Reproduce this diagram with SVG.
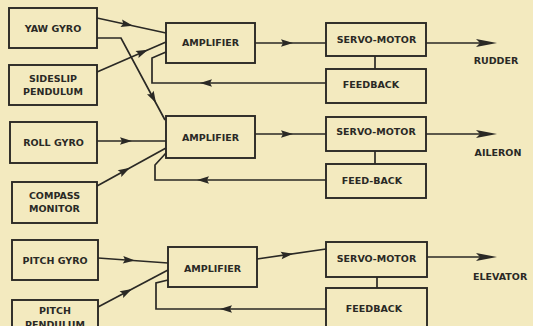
<svg xmlns="http://www.w3.org/2000/svg" xmlns:xlink="http://www.w3.org/1999/xlink" width="533" height="326" viewBox="0 0 533 326">
<style>
.bg{fill:#f3eabf}
.box{fill:none;stroke:#2a2925;stroke-width:1.9}
.ln{fill:none;stroke:#2a2925;stroke-width:1.7;stroke-linejoin:miter}
.t{font-family:"DejaVu Sans",sans-serif;font-weight:bold;font-size:9.5px;fill:#2a2925;text-anchor:middle}
.lbl{font-family:"DejaVu Sans",sans-serif;font-weight:bold;font-size:9.5px;fill:#2a2925}
.ah{fill:#2a2925}
</style>
<defs>
<path id="a" d="M0,0 L-12,-3.8 L-10,0 L-12,3.8 Z"/>
<path id="b" d="M0,0 L-21,-4 L-17,0 L-21,4 Z"/>
</defs>
<rect class="bg" x="0" y="0" width="533" height="326"/>

<g id="yaw-gyro"><rect class="box" x="9" y="8" width="88" height="40"/><text class="t" x="53" y="31.5">YAW GYRO</text></g>
<g id="sideslip-pendulum"><rect class="box" x="9" y="65" width="88" height="40"/><text class="t" x="53" y="81.5">SIDESLIP</text><text class="t" x="53" y="94.5">PENDULUM</text></g>
<g id="roll-gyro"><rect class="box" x="10" y="122" width="87" height="41"/><text class="t" x="53.5" y="145.5">ROLL GYRO</text></g>
<g id="compass-monitor"><rect class="box" x="12" y="182" width="85" height="41"/><text class="t" x="54.5" y="198.5">COMPASS</text><text class="t" x="54.5" y="211.5">MONITOR</text></g>
<g id="pitch-gyro"><rect class="box" x="12" y="240" width="86" height="40"/><text class="t" x="55" y="263.5">PITCH GYRO</text></g>
<g id="pitch-pendulum"><rect class="box" x="12" y="300" width="86" height="40"/><text class="t" x="55" y="313.5">PITCH</text><text class="t" x="55" y="328">PENDULUM</text></g>

<g id="amplifier-1"><rect class="box" x="166" y="23" width="89" height="40"/><text class="t" x="210.5" y="45.5">AMPLIFIER</text></g>
<g id="amplifier-2"><rect class="box" x="166" y="116" width="89" height="42"/><text class="t" x="210.5" y="140.5">AMPLIFIER</text></g>
<g id="amplifier-3"><rect class="box" x="168" y="247" width="89" height="40"/><text class="t" x="212.5" y="271.5">AMPLIFIER</text></g>

<g id="servo-motor-1"><rect class="box" x="326" y="23" width="100" height="33"/><text class="t" x="376.5" y="42.5">SERVO-MOTOR</text></g>
<g id="feedback-1"><rect class="box" x="326" y="69" width="100" height="34"/><text class="t" x="371" y="87.5">FEEDBACK</text></g>
<g id="servo-motor-2"><rect class="box" x="326" y="117" width="100" height="34"/><text class="t" x="376" y="135">SERVO-MOTOR</text></g>
<g id="feed-back-2"><rect class="box" x="326" y="164" width="100" height="34"/><text class="t" x="372" y="183.5">FEED-BACK</text></g>
<g id="servo-motor-3"><rect class="box" x="326" y="242" width="101" height="35"/><text class="t" x="376.5" y="261.5">SERVO-MOTOR</text></g>
<g id="feedback-3"><rect class="box" x="326" y="288" width="101" height="42"/><text class="t" x="374" y="311.5">FEEDBACK</text></g>

<g id="labels">
<text class="t" x="496" y="63.5">RUDDER</text>
<text class="t" x="498" y="155.5">AILERON</text>
<text class="lbl" x="473" y="279.5">ELEVATOR</text>
</g>

<g id="connectors">
<path class="ln" d="M97,18 L166,33"/>
<use xlink:href="#a" class="ah" transform="translate(133,25.8) rotate(12.3)"/>
<path class="ln" d="M97,72 L166,42"/>
<use xlink:href="#a" class="ah" transform="translate(148,49.8) rotate(-23.5)"/>
<path class="ln" d="M97,38 L121,38 L165,120"/>
<use xlink:href="#a" class="ah" transform="translate(156,103) rotate(61.8)"/>
<path class="ln" d="M97,141 L166,141"/>
<use xlink:href="#a" class="ah" transform="translate(132,141)"/>
<path class="ln" d="M97,186 L166,148"/>
<use xlink:href="#a" class="ah" transform="translate(130,167.8) rotate(-28.8)"/>

<path class="ln" d="M255,43 L326,43"/>
<use xlink:href="#a" class="ah" transform="translate(293,43)"/>
<path class="ln" d="M426,43 L482,43"/>
<use xlink:href="#b" class="ah" transform="translate(497,43)"/>
<path class="ln" d="M375,56 L375,69"/>
<path class="ln" d="M326,83 L152,83 L152,58 L166,52"/>
<use xlink:href="#a" class="ah" transform="translate(200,83) rotate(180)"/>

<path class="ln" d="M255,134 L326,134"/>
<use xlink:href="#a" class="ah" transform="translate(293,134)"/>
<path class="ln" d="M426,134 L482,134"/>
<use xlink:href="#b" class="ah" transform="translate(497,134)"/>
<path class="ln" d="M375,151 L375,164"/>
<path class="ln" d="M326,180 L155,180 L155,165 L166,153"/>
<use xlink:href="#a" class="ah" transform="translate(197,180) rotate(180)"/>

<path class="ln" d="M98,258 L168,263"/>
<use xlink:href="#a" class="ah" transform="translate(135,260.6) rotate(4.1)"/>
<path class="ln" d="M98,307 L168,270"/>
<use xlink:href="#a" class="ah" transform="translate(132,289) rotate(-27.9)"/>
<path class="ln" d="M257,259 L326,249"/>
<use xlink:href="#a" class="ah" transform="translate(293,253.8) rotate(-8.2)"/>
<path class="ln" d="M427,257 L482,257"/>
<use xlink:href="#b" class="ah" transform="translate(497,257)"/>
<path class="ln" d="M377,277 L377,288"/>
<path class="ln" d="M326,309 L156,309 L156,283 L168,280"/>
<use xlink:href="#a" class="ah" transform="translate(220,309) rotate(180)"/>
</g>
</svg>
